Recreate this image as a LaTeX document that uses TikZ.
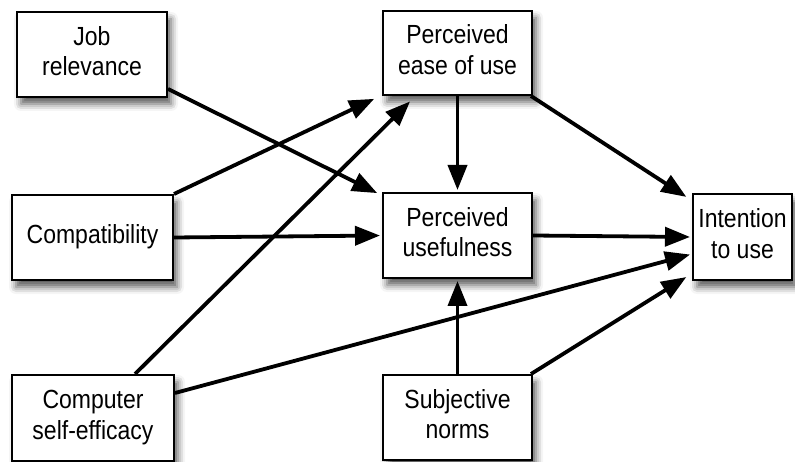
\documentclass[tikz,border=0pt]{standalone}
\usepackage{fontspec}
\setmainfont{Liberation Sans}
\usetikzlibrary{arrows.meta,shadows.blur,calc}
\newcommand{\boxtxt}[1]{\scalebox{1}[1.14]{\fontsize{23}{26.5}\selectfont\begin{tabular}{@{}c@{}}#1\end{tabular}}}
\begin{document}
\begin{tikzpicture}[x=1pt,y=-1pt,
  box/.style={draw=black,line width=2pt,fill=white,align=center,inner sep=0pt,
    blur shadow={shadow xshift=4pt,shadow yshift=-7pt,shadow blur radius=7pt,shadow opacity=65}},
  arr/.style={line width=3.8pt,-{Triangle[length=25pt,width=19pt]},shorten >=2pt}]
\useasboundingbox (0,0) rectangle (795,462);
\node[box,minimum width=150pt,minimum height=85pt] (job) at (92,54.5) {\boxtxt{Job\\relevance}};
\node[box,minimum width=149pt,minimum height=84pt] (peou) at (457.5,53) {\boxtxt{Perceived\\ease of use}};
\node[box,minimum width=161pt,minimum height=85pt] (compat) at (92.5,237.5) {\boxtxt{Compatibility}};
\node[box,minimum width=149pt,minimum height=85pt] (pu) at (457.5,235.5) {\boxtxt{Perceived\\usefulness}};
\node[box,minimum width=162pt,minimum height=86pt] (cse) at (93,418) {\boxtxt{Computer\\self-efficacy}};
\node[box,minimum width=149pt,minimum height=85pt] (subj) at (457.5,417.5) {\boxtxt{Subjective\\norms}};
\node[box,minimum width=99pt,minimum height=86pt] (int) at (742.5,237) {\boxtxt{Intention\\to use}};
\draw[arr] ([yshift=9pt]job.south east) -- ([xshift=-3pt,yshift=-2pt]pu.north west);
\draw[arr] (compat.north east) -- ([xshift=-6pt,yshift=-2pt]peou.south west);
\draw[arr] (compat.east) -- (pu.west);
\draw[arr] ([xshift=42pt]cse.north) -- ([xshift=-46pt,yshift=-4pt]peou.south);
\draw[arr] ([yshift=25pt]cse.east) -- ([yshift=-17pt]int.west);
\draw[arr] (peou.south) -- (pu.north);
\draw[arr] ([xshift=-2pt]peou.south east) -- ([xshift=-4pt,yshift=-5pt]int.north west);
\draw[arr] (pu.east) -- (int.west);
\draw[arr] (subj.north) -- (pu.south);
\draw[arr] ([xshift=-2pt]subj.north east) -- ([xshift=-4pt,yshift=5pt]int.south west);
\end{tikzpicture}
\end{document}
